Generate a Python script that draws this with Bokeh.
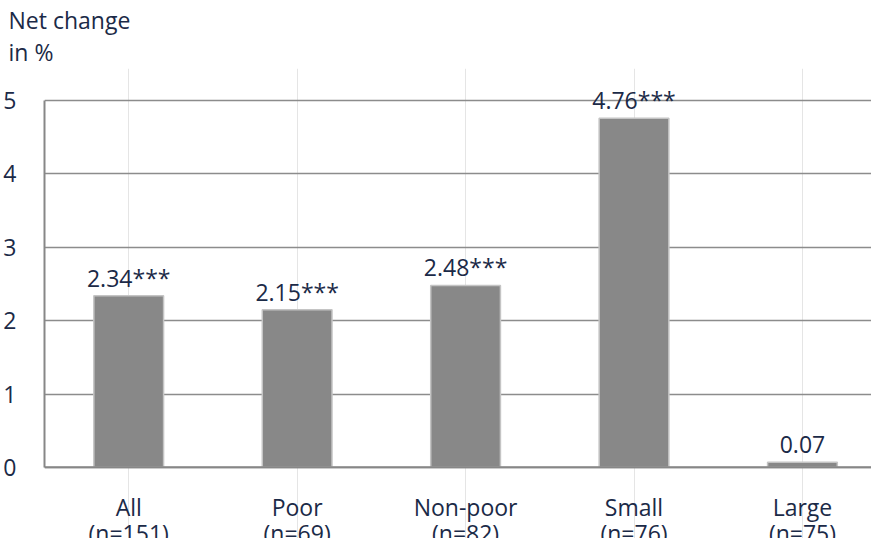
from bokeh.plotting import figure
from bokeh.models import Range1d, FixedTicker, ColumnDataSource, Span
from bokeh.core.properties import value
from bokeh.embed import file_html
from bokeh.resources import INLINE

categories = ["All", "Poor", "Non-poor", "Small", "Large"]
sample_sizes = ["(n=151)", "(n=69)", "(n=82)", "(n=76)", "(n=75)"]
net_change = [2.34, 2.15, 2.48, 4.76, 0.07]
significance = ["***", "***", "***", "***", ""]
y_ticks = [0, 1, 2, 3, 4, 5]

FONT = "Open Sans"
TXT = "#1b2a47"
FS = "23px"
AXIS_GREY = "#878787"

xs = list(range(len(categories)))
labels = [f"{v:.2f}{s}" for v, s in zip(net_change, significance)]
src = ColumnDataSource(dict(x=xs, top=net_change, label=labels,
                            cat=categories, n=sample_sizes, zero=[0] * len(xs)))

p = figure(width=871, height=538, output_backend="svg", toolbar_location=None,
           x_axis_location=None,
           x_range=Range1d(-0.5, 4.41), y_range=Range1d(-0.97, 5.438),
           min_border_left=41, min_border_right=0, min_border_top=68, min_border_bottom=0)
p.background_fill_color = "white"
p.border_fill_color = "white"
p.outline_line_color = None

p.title.text = "Net change\nin %"
p.title.align = "left"
p.title.offset = -36
p.title.text_font = FONT
p.title.text_font_size = FS
p.title.text_font_style = "normal"
p.title.text_color = TXT
p.title.standoff = 2

p.vbar(x="x", top="top", width=0.414, source=src, fill_color="#888888",
       line_color="#c4c4c4", line_width=1.5)

p.text(x="x", y="top", text="label", source=src, text_align="center",
       text_baseline="alphabetic", y_offset=-18, text_font=value(FONT),
       text_font_size=FS, text_color=TXT)

p.text(x="x", y="zero", text="cat", source=src, text_align="center",
       text_baseline="alphabetic", y_offset=40, text_font=value(FONT),
       text_font_size=FS, text_color=TXT)
p.text(x="x", y="zero", text="n", source=src, text_align="center",
       text_baseline="alphabetic", y_offset=66, text_font=value(FONT),
       text_font_size=FS, text_color=TXT)

p.add_layout(Span(location=0, dimension="width", line_color=AXIS_GREY, line_width=2))

p.yaxis.ticker = FixedTicker(ticks=y_ticks)
p.yaxis.bounds = (0, 5)
p.yaxis.major_tick_line_color = None
p.yaxis.minor_tick_line_color = None
p.yaxis.axis_line_color = AXIS_GREY
p.yaxis.axis_line_width = 2
p.yaxis.major_label_text_font = FONT
p.yaxis.major_label_text_font_size = FS
p.yaxis.major_label_text_color = TXT
p.yaxis.major_label_standoff = 22

p.ygrid.grid_line_color = "#8c8c8c"
p.ygrid.grid_line_width = 1.5
p.ygrid.bounds = (1, 5)

open("out.html", "w").write(file_html(p, INLINE))
